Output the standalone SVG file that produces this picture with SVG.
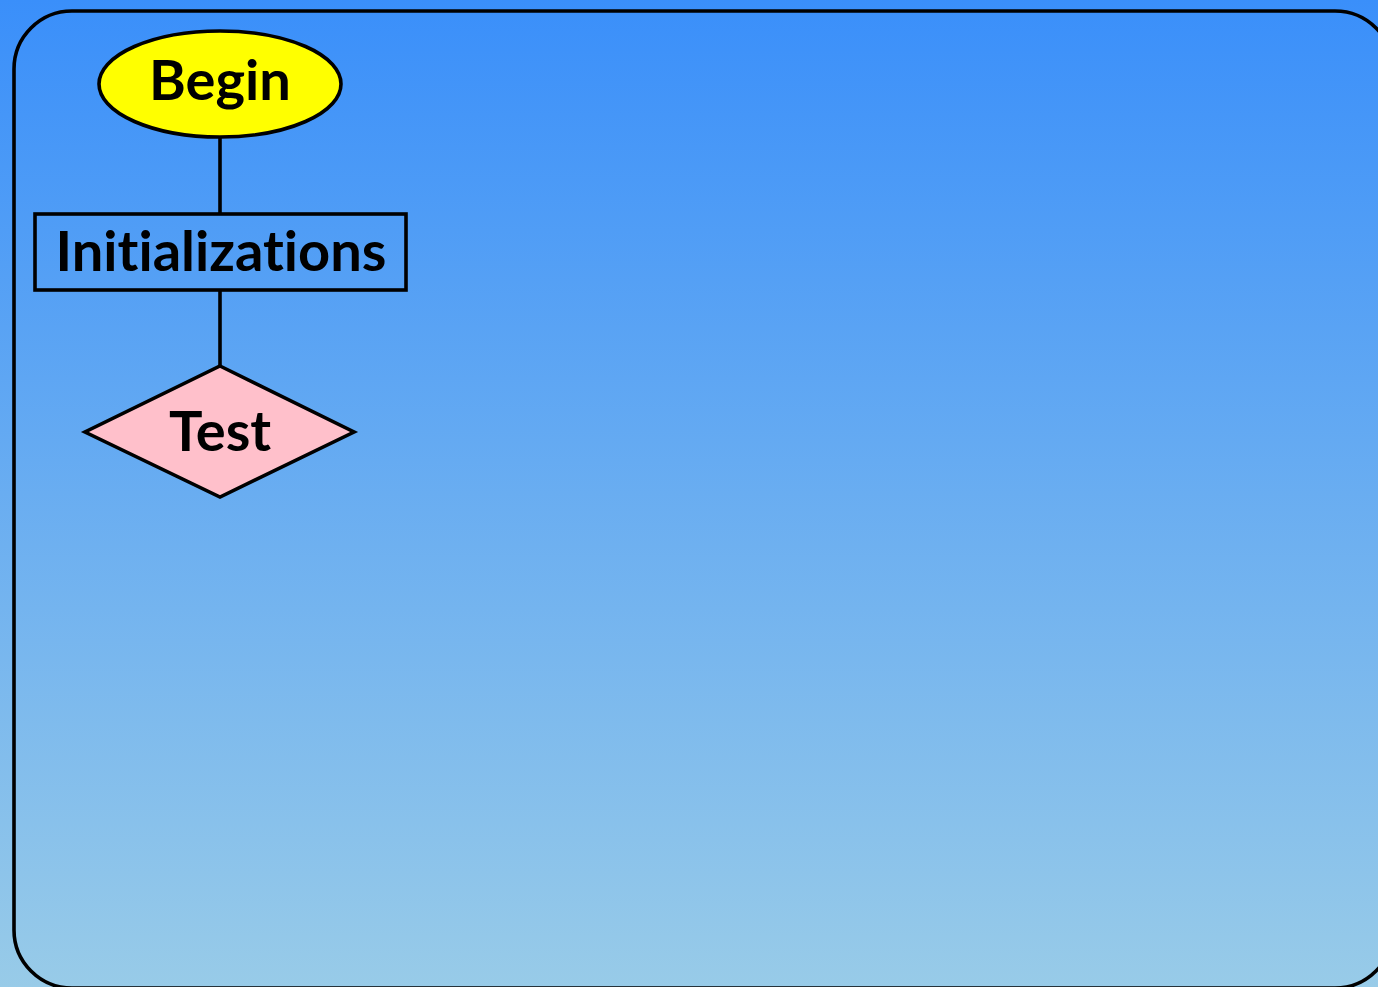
<svg xmlns="http://www.w3.org/2000/svg" width="1378" height="987" viewBox="0 0 1378 987">
  <defs>
    <linearGradient id="sky" x1="0" y1="0" x2="0" y2="1">
      <stop offset="0" stop-color="#3a8ffa"/>
      <stop offset="1" stop-color="#98cbe8"/>
    </linearGradient>
  </defs>
  <style>
    .shape { stroke: #000; stroke-width: 3.6; }
    .edge { stroke: #000; stroke-width: 3.6; fill: none; }
    .label { font-family: Lato, "DejaVu Sans", sans-serif; font-weight: bold; font-size: 56px; fill: #000; text-anchor: middle; font-variant-ligatures: none; }
  </style>
  <!-- background and frame -->
  <rect x="0" y="0" width="1378" height="987" fill="url(#sky)"/>
  <rect x="14" y="11" width="1379" height="977" rx="58" ry="58" fill="none" stroke="#000" stroke-width="3.6"/>

  <g id="connectors">
    <line class="edge" x1="220" y1="137" x2="220" y2="214"/>
    <line class="edge" x1="220" y1="290" x2="220" y2="366"/>
  </g>

  <g id="begin">
    <ellipse class="shape" cx="220" cy="84" rx="121" ry="53" fill="#ffff00"/>
    <text class="label" x="220" y="100">Begin</text>
  </g>

  <g id="init">
    <rect class="shape" x="35" y="214" width="371" height="76" fill="none"/>
    <text class="label" x="221" y="271">Initializations</text>
  </g>

  <g id="test">
    <polygon class="shape" points="220,366 354,432 220,497 85,432" fill="#ffc0cb"/>
    <text class="label" x="220" y="451">Test</text>
  </g>
</svg>
